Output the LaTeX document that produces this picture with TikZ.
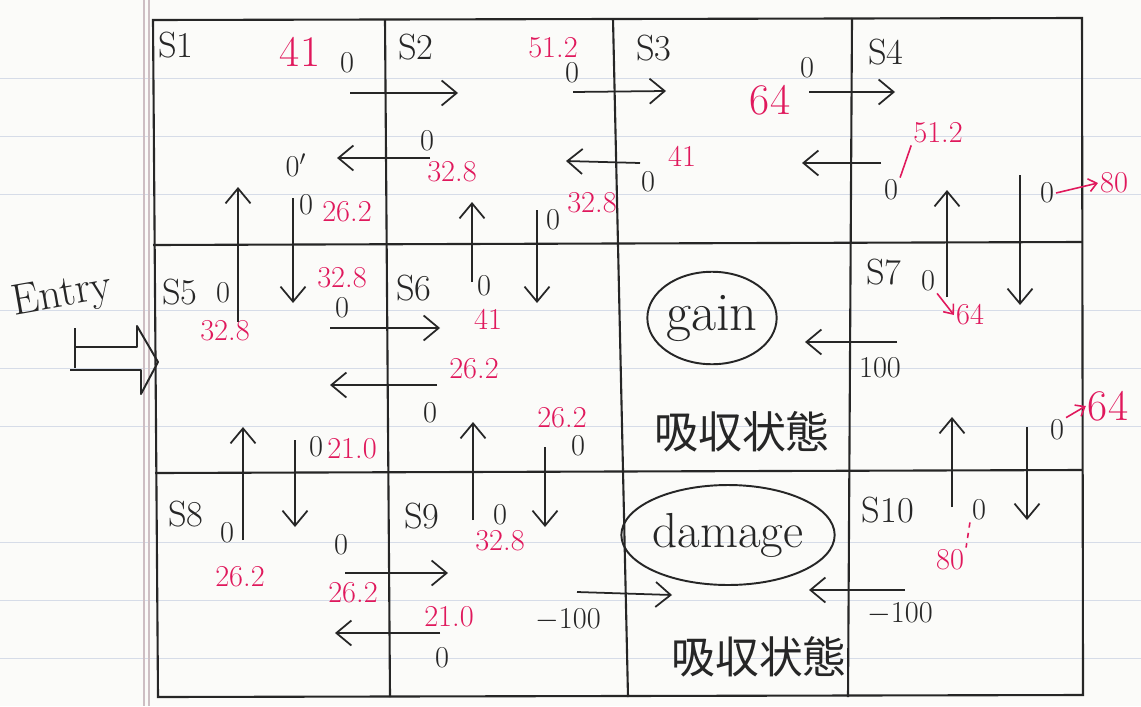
\documentclass[tikz,border=0pt]{standalone}
\usepackage{fontspec}
\newfontfamily\jpfont{Noto Sans CJK JP}
\usepackage{xcolor}
\usepackage{tikz}
\usetikzlibrary{arrows.meta, shapes.geometric}
\definecolor{ink}{RGB}{38,38,38}
\definecolor{redink}{RGB}{224,24,92}
\definecolor{paper}{RGB}{251,251,249}
\definecolor{rulecol}{RGB}{214,220,232}
\definecolor{margincol}{RGB}{205,190,195}

\begin{document}
\begin{tikzpicture}[
    x=0.02cm, y=-0.02cm,
    >={Straight Barb[length=3mm, width=5mm]},
    grid/.style={draw=ink, line width=1.2pt},
    flow/.style={->, draw=ink, line width=1pt},
    state/.style={font=\huge, text=ink, inner sep=1pt},
    val/.style={font=\LARGE, text=ink, inner sep=1pt},
    rew/.style={font=\LARGE, text=redink, inner sep=1pt},
    bigrew/.style={font=\Huge, text=redink, inner sep=1pt},
    redtick/.style={draw=redink, line width=0.9pt},
    redflow/.style={redtick, -{Straight Barb[length=1.6mm, width=2.6mm]}},
    goal/.style={draw=ink, line width=1.1pt, ellipse, inner sep=0pt, text=ink},
    absorb/.style={font=\jpfont\fontsize{25}{28}\selectfont, text=ink}
]
    % Paper
    \fill[paper] (0,0) rectangle (1141,706);
    \useasboundingbox (0,0) rectangle (1141,706);
    \foreach \y in {78,136,194,310,368,426,542,600,658}
        \draw[rulecol, line width=0.4pt] (0,\y) -- (1141,\y);
    \draw[margincol, line width=0.6pt] (144,0) -- (144,706);
    \draw[margincol, line width=0.6pt] (149,0) -- (149,706);

    % Grid
    \draw[grid] (153,20) -- (1082,18) -- (1083,695) -- (158,697) -- cycle;
    \draw[grid] (153,245) -- (1082,242);
    \draw[grid] (155,473) -- (1082,470);
    \draw[grid] (385,20) -- (390,697);
    \draw[grid] (613,19) -- (628,697);
    \draw[grid] (852,18) -- (848,697);

    % States
    \node[state] (s1) at (176,45) {S1};
    \node[state] (s2) at (416,47) {S2};
    \node[state] (s3) at (654,48) {S3};
    \node[state] (s4) at (886,52) {S4};
    \node[state] (s5) at (180,292) {S5};
    \node[state] (s6) at (414,288) {S6};
    \node[state] (s7) at (884,272) {S7};
    \node[state] (s8) at (186,514) {S8};
    \node[state] (s9) at (422,516) {S9};
    \node[state] (s10) at (888,510) {S10};

    % Absorbing states
    \node[goal, font=\fontsize{31}{34}\selectfont, minimum width=2.15cm, minimum height=1.85cm] (gain) at (712,318) {gain};
    \node[absorb] (absgain) at (742,432) {吸収状態};
    \node[goal, font=\fontsize{28}{32}\selectfont, minimum width=3.95cm, minimum height=2.0cm] (damage) at (728,535) {damage};
    \node[absorb, font=\jpfont\Huge] (absdamage) at (759,657) {吸収状態};

    % Entry
    \node[font=\Huge, text=ink, rotate=10] (entry) at (62,296) {Entry};
    \draw[ink, line width=1.1pt, line join=round]
        (75,347) -- (137,347) -- (137,326) -- (158,362) -- (141,394) -- (141,370) -- (70,370);
    \draw[ink, line width=1.1pt] (75,328) -- (75,368);

    % Arrow end points
    \coordinate (p12) at (350,93);   \coordinate (q12) at (458,93);
    \coordinate (p23) at (573,92);   \coordinate (q23) at (666,91);
    \coordinate (p34) at (809,92);   \coordinate (q34) at (895,92);
    \coordinate (p21) at (430,158);  \coordinate (q21) at (337,158);
    \coordinate (p32) at (640,163);  \coordinate (q32) at (566,161);
    \coordinate (p43) at (881,163);  \coordinate (q43) at (802,163);
    \coordinate (p51) at (238,322);  \coordinate (q51) at (238,187);
    \coordinate (p15) at (293,198);  \coordinate (q15) at (293,303);
    \coordinate (p62) at (472,282);  \coordinate (q62) at (472,202);
    \coordinate (p26) at (537,210);  \coordinate (q26) at (537,303);
    \coordinate (p74) at (947,297);  \coordinate (q74) at (947,190);
    \coordinate (p47) at (1020,175); \coordinate (q47) at (1020,305);
    \coordinate (p56) at (330,328);  \coordinate (q56) at (440,328);
    \coordinate (p65) at (437,385);  \coordinate (q65) at (330,385);
    \coordinate (p7g) at (897,342);  \coordinate (q7g) at (805,342);
    \coordinate (p85) at (243,540);  \coordinate (q85) at (243,427);
    \coordinate (p58) at (295,440);  \coordinate (q58) at (295,527);
    \coordinate (p96) at (473,520);  \coordinate (q96) at (473,422);
    \coordinate (p69) at (545,447);  \coordinate (q69) at (545,527);
    \coordinate (p107) at (952,507); \coordinate (q107) at (952,417);
    \coordinate (p710) at (1027,427); \coordinate (q710) at (1027,520);
    \coordinate (p89) at (345,573);  \coordinate (q89) at (448,573);
    \coordinate (p98) at (440,633);  \coordinate (q98) at (335,633);
    \coordinate (p9d) at (577,592);  \coordinate (q9d) at (672,595);
    \coordinate (p10d) at (905,590); \coordinate (q10d) at (809,590);

    % Moves
    \foreach \a/\b in {p12/q12, p23/q23, p34/q34, p21/q21, p32/q32, p43/q43,
                       p51/q51, p15/q15, p62/q62, p26/q26, p74/q74, p47/q47,
                       p56/q56, p65/q65, p7g/q7g, p85/q85, p58/q58, p96/q96,
                       p69/q69, p107/q107, p710/q710, p89/q89, p98/q98,
                       p9d/q9d, p10d/q10d}
        \draw[flow] (\a) -- (\b);

    % Values, top row
    \node[bigrew] (r12) at (300,52) {41};
    \node[val] (z12) at (347,63) {0};
    \node[rew] (r23) at (553,48) {51.2};
    \node[val] (z23) at (572,73) {0};
    \node[bigrew] (r34) at (770,100) {64};
    \node[val] (z34) at (807,68) {0};
    \node[val] (z21) at (427,141) {0};
    \node[rew] (r21) at (452,172) {32.8};
    \node[val] (z1) at (296,165) {0$'$};
    \node[val] (z32) at (648,182) {0};
    \node[rew] (r32) at (682,156) {41};
    \node[val] (z43) at (891,190) {0};
    \node[rew] (r43) at (938,133) {51.2};
    \draw[redtick] (z43.north east) -- (r43.south west);
    \node[val] (z15) at (306,205) {0};
    \node[rew] (r15) at (347,212) {26.2};
    \node[val] (z26) at (553,220) {0};
    \node[rew] (r26) at (592,203) {32.8};
    \node[val] (z47) at (1047,193) {0};
    \node[rew] (r47) at (1114,183) {80};
    \draw[redflow] (z47.east) -- (r47.west);

    % Values, middle row
    \node[val] (z5) at (223,293) {0};
    \node[rew] (r5) at (225,331) {32.8};
    \node[rew] (r56) at (342,278) {32.8};
    \node[val] (z56) at (342,308) {0};
    \node[val] (z62) at (484,286) {0};
    \node[rew] (r62) at (488,319) {41};
    \node[rew] (r65) at (474,369) {26.2};
    \node[val] (z65) at (430,413) {0};
    \node[val] (z74) at (928,281) {0};
    \node[rew] (r74) at (970,315) {64};
    \draw[redflow] (z74.south east) -- (r74.west);
    \node[val] (g100) at (880,368) {100};
    \node[val] (z58) at (316,447) {0};
    \node[rew] (r58) at (352,449) {21.0};
    \node[rew] (r69) at (562,418) {26.2};
    \node[val] (z69) at (578,446) {0};
    \node[val] (z710) at (1057,430) {0};
    \node[bigrew] (r710) at (1108,406) {64};
    \draw[redflow] (z710.north east) -- (r710.west);

    % Values, bottom row
    \node[val] (z8) at (227,533) {0};
    \node[rew] (r8) at (240,577) {26.2};
    \node[val] (z96) at (500,515) {0};
    \node[rew] (r96) at (500,541) {32.8};
    \node[val] (z107) at (979,510) {0};
    \node[rew] (r107) at (950,560) {80};
    \draw[redtick, dashed] (z107.south west) -- (r107.north east);
    \node[val] (z89) at (341,545) {0};
    \node[rew] (r89) at (353,593) {26.2};
    \node[rew] (r98) at (449,617) {21.0};
    \node[val] (z98) at (442,658) {0};
    \node[val] (d9) at (568,620) {$-$100};
    \node[val] (d10) at (900,614) {$-$100};
\end{tikzpicture}
\end{document}
